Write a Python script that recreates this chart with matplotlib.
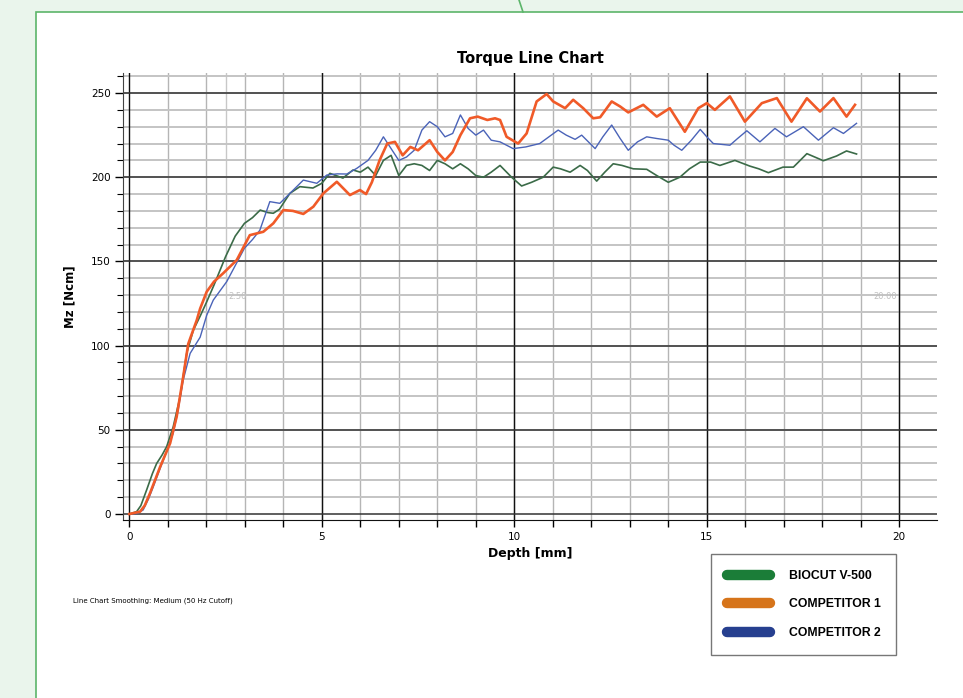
import matplotlib
matplotlib.use("Agg")
import matplotlib.pyplot as plt
from matplotlib.lines import Line2D
from matplotlib.patches import Rectangle

# --- data ---
green_x = [0, 0.19, 0.3, 0.45, 0.6, 0.71, 0.85, 0.97, 1.14, 1.32, 1.49, 1.66, 1.85, 2.01, 2.2,
           2.5, 2.75, 2.99, 3.2, 3.4, 3.6, 3.74, 3.9, 4.17, 4.43, 4.77, 5.0, 5.21, 5.55, 5.81,
           6.0, 6.2, 6.4, 6.6, 6.8, 7.0, 7.2, 7.4, 7.6, 7.8, 8.0, 8.2, 8.4, 8.6, 8.8, 9.0, 9.2,
           9.4, 9.63, 9.93, 10.19, 10.45, 10.75, 11.01, 11.2, 11.45, 11.71, 11.9, 12.14, 12.35,
           12.57, 12.8, 13.09, 13.44, 13.7, 14.0, 14.3, 14.55, 14.83, 15.1, 15.34, 15.73, 16.12,
           16.35, 16.6, 16.98, 17.25, 17.6, 18.03, 18.37, 18.63, 18.89]
green_y = [0, 1.4, 5, 14.3, 24, 30, 35, 40, 51.8, 69.7, 95.4, 109, 118, 126, 136,
           152.8, 165, 172.6, 176, 180.5, 179, 178.6, 181, 190.4, 194.4, 193.6, 196.4, 202.3, 199.5, 204.3,
           203, 206, 201, 210, 213, 201, 207, 208, 207, 204, 210, 208, 205, 208, 205, 201, 200,
           203, 207, 200, 194.8, 197, 200, 206, 205, 203, 207, 204, 197.7, 203,
           208, 207, 205, 204.7, 201, 197, 200, 205, 209, 209, 207, 210, 206.6,
           205, 202.7, 206, 206, 214, 209.8, 212.6, 215.6, 213.8]

blue_x = [0, 0.2, 0.36, 0.5, 0.62, 0.8, 0.95, 1.14, 1.27, 1.4, 1.58, 1.84, 2.01, 2.18, 2.53,
          2.99, 3.2, 3.39, 3.65, 3.91, 4.26, 4.52, 4.87, 5.13, 5.4, 5.65, 5.91, 6.2, 6.4, 6.6,
          6.8, 7.0, 7.2, 7.4, 7.6, 7.8, 8.0, 8.2, 8.4, 8.6, 8.8, 9.0, 9.2, 9.4, 9.63, 9.97,
          10.3, 10.66, 10.9, 11.14, 11.35, 11.58, 11.75, 12.1, 12.3, 12.53, 12.75, 12.96, 13.2,
          13.44, 13.7, 14.0, 14.15, 14.35, 14.6, 14.83, 15.0, 15.17, 15.6, 15.8, 16.04, 16.38,
          16.77, 17.07, 17.51, 17.9, 18.29, 18.55, 18.89]
blue_y = [0, 0.3, 2.4, 9, 16, 27, 36, 48, 62, 79.6, 95.4, 105, 118, 127, 138,
          157.8, 163, 168.5, 185.5, 184.5, 192.4, 198.3, 196.4, 201.3, 202, 201.9, 205.3, 210, 216, 224,
          217, 210, 212, 216, 228, 233, 230, 224, 226, 237, 229, 225, 228, 222, 221, 217,
          218, 220, 224, 228, 225, 222.5, 225, 217, 224, 231, 223, 216, 221,
          224, 223, 222, 219, 216, 222, 228.4, 224, 220, 219, 223, 227.6, 221,
          229, 224, 230, 222, 229.4, 226, 232]

orange_x = [0, 0.28, 0.4, 0.54, 0.8, 1.06, 1.23, 1.4, 1.53, 1.75, 1.84, 2.01, 2.2, 2.44, 2.79,
            3.13, 3.48, 3.74, 4.0, 4.25, 4.52, 4.78, 5.04, 5.39, 5.73, 5.99, 6.15, 6.3, 6.5, 6.7,
            6.9, 7.1, 7.3, 7.5, 7.8, 8.0, 8.2, 8.4, 8.6, 8.85, 9.05, 9.3, 9.5, 9.63, 9.8, 10.1,
            10.32, 10.58, 10.84, 11.01, 11.32, 11.53, 11.79, 12.05, 12.23, 12.53, 12.75, 12.96,
            13.35, 13.7, 14.04, 14.43, 14.78, 15.0, 15.21, 15.6, 15.99, 16.43, 16.82, 17.2, 17.6,
            17.94, 18.29, 18.63, 18.85]
orange_y = [0, 1.4, 5, 12.5, 28, 42, 57.8, 81.5, 101, 115, 122, 132, 138, 143, 150.8,
            165.6, 167.6, 172.6, 180.5, 180, 178.2, 182.5, 190.4, 197.3, 189.4, 192.4, 190, 197, 210, 220,
            221, 213, 218, 216, 222, 215, 210, 215, 225, 235, 236, 234, 235, 234, 224, 220,
            226, 245, 249.4, 245, 241, 246, 241, 235, 235.6, 245, 242, 238.5,
            243, 236, 241, 227, 241, 244, 240, 248, 233, 244, 247, 233, 246.9,
            239, 247, 236, 243]

series_names = ["BIOCUT V-500", "COMPETITOR 1", "COMPETITOR 2"]
legend_colors = ["#1b7d38", "#d6741a", "#263f8f"]

W, H = 963, 698
fig = plt.figure(figsize=(W / 100, H / 100), dpi=100, facecolor="#eaf5ec")

# white panel with green frame
fig.patches.append(Rectangle((36 / W, -0.01), 1, 1.01 - 12 / H, transform=fig.transFigure,
                             facecolor="white", edgecolor="#5cb56a", lw=1.2, zorder=0))
fig.lines.append(Line2D([519 / W, 523 / W], [1, 1 - 12 / H], transform=fig.transFigure,
                        color="#5cb56a", lw=1.2))

ax = fig.add_axes([123 / W, (H - 520) / H, 814 / W, 447 / H])
ax.set_zorder(3)
ax.set_facecolor("white")
ax.set_xlim(-0.164, 20.98)
ax.set_ylim(-3.56, 261.9)

# grid
for gx in range(1, 21):
    ax.axvline(gx, color="#b5b5b5", lw=1.0, zorder=1)
ax.axvline(2.5, color="#c8c8c8", lw=1.0, zorder=1)
for gx in [0, 5, 10, 15, 20]:
    ax.axvline(gx, color="#111111", lw=1.0, zorder=1.5)
for gy in range(10, 270, 10):
    ax.axhline(gy, color="#c4c4c4", lw=1.4, zorder=1)
for gy in range(0, 260, 50):
    ax.axhline(gy, color="#333333", lw=1.1, zorder=1.5)

ax.plot(green_x, green_y, color="#3b6b48", lw=1.2, zorder=3)
ax.plot(blue_x, blue_y, color="#4a63b8", lw=1.0, zorder=3)
ax.plot(orange_x, orange_y, color="#f05a28", lw=1.9, zorder=4)

ax.text(2.57, 129, "2.50", color="#c0c0c0", fontsize=6, va="center", ha="left")
ax.text(19.95, 129, "20.00", color="#c0c0c0", fontsize=6, va="center", ha="right")

for s in ["top", "right"]:
    ax.spines[s].set_visible(False)
ax.spines["left"].set_color("#444444")
ax.spines["bottom"].set_color("#111111")

ax.set_xticks(range(0, 21))
ax.set_xticklabels([str(v) if v % 5 == 0 else "" for v in range(0, 21)])
ax.set_yticks(range(0, 251, 50))
ax.set_yticks(range(0, 261, 10), minor=True)
ax.tick_params(axis="x", length=5, width=1, labelsize=7.5, pad=4)
ax.tick_params(axis="y", which="major", length=6, width=1, labelsize=7.5, pad=3)
ax.tick_params(axis="y", which="minor", length=4, width=0.8)

ax.set_xlabel("Depth [mm]", fontsize=9, fontweight="bold", labelpad=3)
ax.set_ylabel("Mz [Ncm]", fontsize=8.5, fontweight="bold", labelpad=10)
ax.set_title("Torque Line Chart", fontsize=10.5, fontweight="bold", pad=7)

fig.text(73 / W, 1 - 601 / H, "Line Chart Smoothing: Medium (50 Hz Cutoff)",
         fontsize=5, va="center", ha="left")

handles = [Line2D([], [], color=c, lw=7.5, solid_capstyle="round") for c in legend_colors]
leg = fig.legend(handles, series_names, loc="upper left",
                 bbox_to_anchor=(711 / W, 1 - 554 / H),
                 prop={"family": "Liberation Sans", "weight": "bold", "size": 8.8},
                 frameon=True, fancybox=False, edgecolor="#555555",
                 borderpad=1.3, handlelength=3.5, handletextpad=1.55, labelspacing=1.35,
                 borderaxespad=0)
leg.get_frame().set_linewidth(1.0)

fig.savefig("out.png", dpi=100, facecolor=fig.get_facecolor())
